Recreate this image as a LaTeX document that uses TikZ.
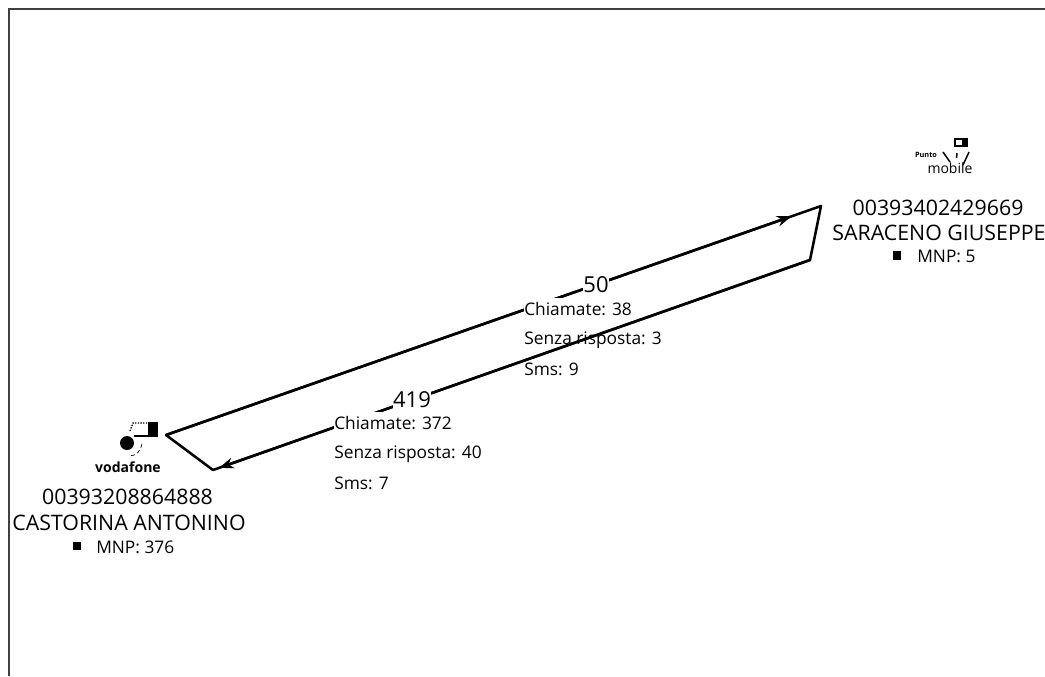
\documentclass[tikz,border=0pt]{standalone}
\usepackage{fontspec}
\setmainfont{Open Sans}
\usetikzlibrary{arrows.meta,calc}
\tikzset{
  x=0.75pt,y=-0.75pt,
  phone/.style={font=\fontsize{16}{16}\selectfont,inner sep=0pt},
  count/.style={font=\fontsize{16.5}{16}\selectfont,fill=white,inner sep=0pt,minimum height=16.5pt},
  info/.style={font=\fontsize{13}{13}\selectfont,anchor=west,inner sep=0pt},
  infotop/.style={info,fill=white,minimum height=16.5pt},
  mnpbox/.style={fill=black,minimum size=6.5pt,inner sep=0pt},
  edge/.style={line width=1.9pt,line join=round},
  head/.style={-{Stealth[length=11pt,width=8pt]}}
}
\begin{document}
\begin{tikzpicture}
  \useasboundingbox (0,0) rectangle (1045,676);
  % frame
  \draw[line width=1.1pt,black!75] (9,676) -- (9,9) -- (1045,9);

  % corners of the two connections
  \coordinate (voda1) at (166,435);
  \coordinate (voda2) at (213,470);
  \coordinate (punto1) at (821,206);
  \coordinate (punto2) at (810,260);
  \coordinate (tip1) at ($(voda1)!0.955!(punto1)$);
  \coordinate (tip2) at ($(punto2)!0.99!(voda2)$);
  \draw[edge] (voda1) -- (punto1) -- (punto2) -- (voda2) -- cycle;
  \draw[edge,head] (voda1) -- (tip1);
  \draw[edge,head] (punto2) -- (tip2);

  % labels on the lines
  \node[count] (n50) at (596,285) {50};
  \node[count] (n419) at (412,400) {419};
  \node[infotop] (c38) at (524,309) {Chiamate: 38};
  \node[info] (s3) at (524,340) {Senza risposta: 3};
  \node[info] (m9) at (524,369) {Sms: 9};
  \node[infotop] (c372) at (334,423) {Chiamate: 372};
  \node[info] (s40) at (334,454) {Senza risposta: 40};
  \node[info] (m7) at (334,483) {Sms: 7};

  % punto mobile
  \node[font=\fontsize{5.5}{6}\selectfont\bfseries,inner sep=0pt] (pm1) at (926,155) {Punto};
  \node[font=\fontsize{10.5}{11}\selectfont,inner sep=0pt] (pm2) at (950,168) {mobile};
  \draw[line width=1.1pt] (943,152) -- (950,162) (969,152) -- (963,165) (957,153) -- (956.5,158);
  \draw[line width=1.2pt] (955,139) rectangle (967,146);
  \fill (962,139) rectangle (967,146);
  \node[phone] (num2) at (938,208) {00393402429669};
  \node[phone] (name2) at (939,233) {SARACENO GIUSEPPE};
  \node[info] (mnp2) at (917,256) {MNP: 5};
  \node[mnpbox] (box2) at (897,255.5) {};

  % vodafone
  \draw[densely dotted,line width=1pt] (130,431) -- (133,423) -- (148,423);
  \draw[line width=1.3pt] (134,436) -- (158,436);
  \fill (148,422) rectangle (158,437);
  \fill (127,443) circle (5.25pt);
  \draw[densely dashed,line width=0.5pt] (142,444) .. controls (141,451) and (136,456) .. (129,456);
  \node[font=\fontsize{10.5}{11}\selectfont\bfseries,inner sep=0pt] (vf) at (128,467) {vodafone};
  \node[phone] (num1) at (127.5,497) {00393208864888};
  \node[phone] (name1) at (129,523) {CASTORINA ANTONINO};
  \node[info] (mnp1) at (96,547) {MNP: 376};
  \node[mnpbox] (box1) at (77,546) {};
\end{tikzpicture}
\end{document}
